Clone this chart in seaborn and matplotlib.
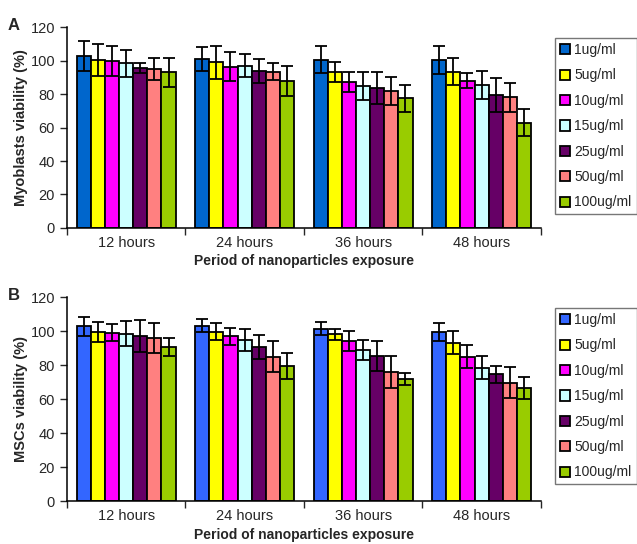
import pandas as pd
import numpy as np
import matplotlib
matplotlib.use("Agg")
import matplotlib.pyplot as plt
import seaborn as sns

periods = ["12 hours", "24 hours", "36 hours", "48 hours"]
doses = ["1ug/ml", "5ug/ml", "10ug/ml", "15ug/ml", "25ug/ml", "50ug/ml", "100ug/ml"]

# viability (%) per dose, one value per period
myo_mean = [
    [103, 101, 100.5, 100.5],
    [100.5, 99, 93, 93.5],
    [99.7, 96.5, 87, 88],
    [98.5, 97, 85, 85.5],
    [95.5, 93.7, 83.5, 79.5],
    [95, 93.5, 82, 78],
    [93, 88, 77.5, 63],
]
myo_err = [
    [9, 7, 8, 8.5],
    [9.5, 10, 6, 8],
    [9, 8.5, 6, 4.5],
    [8, 7, 8.5, 8.5],
    [3, 7, 9.5, 10],
    [6.5, 5, 8.5, 8.5],
    [8.5, 9, 8, 8],
]
msc_mean = [
    [102.8, 103.2, 101.4, 99.6],
    [99.6, 99.6, 98, 93.2],
    [99, 97, 94, 85],
    [98.5, 94.5, 88.8, 78.5],
    [97, 90.8, 85.3, 74.5],
    [96, 85, 76, 69.6],
    [90.6, 79.4, 71.6, 66.7],
]
msc_err = [
    [5.5, 4, 4, 5.4],
    [6, 5, 3, 7],
    [5, 5, 6, 7],
    [7.5, 6.5, 6, 7],
    [9.5, 7, 9, 5],
    [9, 9, 9.5, 9],
    [5.5, 7.5, 3.5, 6.5],
]

colors_a = ["#0066CC", "#FFFF00", "#FF00FF", "#CCFFFF", "#660066", "#FF8080", "#99CC00"]
colors_b = ["#3366FF", "#FFFF00", "#FF00FF", "#CCFFFF", "#660066", "#FF8080", "#99CC00"]

sns.set_style("ticks")
plt.rcParams["font.family"] = ["Liberation Sans", "DejaVu Sans"]

fig = plt.figure(figsize=(6.37, 5.44), dpi=100)


def panel(rect, mean, err, colors, ylabel, letter):
    ax = fig.add_axes(rect)
    rows = []
    for i, d in enumerate(doses):
        for j, p in enumerate(periods):
            rows.append({"period": p, "dose": d, "value": mean[i][j]})
    df = pd.DataFrame(rows)
    sns.barplot(data=df, x="period", y="value", hue="dose", order=periods,
                hue_order=doses, palette=colors, saturation=1, width=0.835,
                errorbar=None, edgecolor="black", linewidth=1.3, ax=ax)
    bars = list(ax.containers)
    for i, cont in enumerate(bars):
        xs = [b.get_x() + b.get_width() / 2 for b in cont]
        ys = [b.get_height() for b in cont]
        ax.errorbar(xs, ys, yerr=err[i], fmt="none", ecolor="black",
                    elinewidth=1.3, capsize=4, capthick=1.3, zorder=5)
    ax.set_xlim(-0.5, 3.5)
    ax.set_ylim(0, 120)
    ax.set_yticks(range(0, 121, 20))
    ax.set_xticks([-0.5, 0.5, 1.5, 2.5, 3.5], minor=False)
    ax.set_xticklabels([])
    ax.set_xticks(range(4), minor=True)
    ax.set_xticklabels(periods, minor=True, fontsize=10.5)
    ax.tick_params(axis="x", which="minor", length=0, pad=6)
    ax.tick_params(axis="x", which="major", length=5, width=1, direction="out")
    ax.tick_params(axis="y", length=5, width=1, labelsize=10.5)
    sns.despine(ax=ax)
    for s in ["left", "bottom"]:
        ax.spines[s].set_linewidth(1.1)
        ax.spines[s].set_color("black")
    ax.set_ylabel(ylabel, fontsize=10.5, fontweight="bold", labelpad=2)
    ax.set_xlabel("Period of nanoparticles exposure", fontsize=10,
                  fontweight="bold", labelpad=3)
    h, l = ax.get_legend_handles_labels()
    ax.legend(h, l, loc="upper left", bbox_to_anchor=(1.03, 0.945),
              fontsize=10, frameon=True, fancybox=False, edgecolor="#555555",
              handlelength=0.75, handleheight=0.75, handletextpad=0.3,
              labelspacing=0.82, borderpad=0.35, borderaxespad=0)
    fig.text(0.012, rect[1] + rect[3] + 0.003, letter, fontsize=12,
             fontweight="bold", va="center")
    return ax


panel([0.105, 0.581, 0.744, 0.369], myo_mean, myo_err, colors_a,
      "Myoblasts viability (%)", "A")
panel([0.105, 0.079, 0.744, 0.375], msc_mean, msc_err, colors_b,
      "MSCs viability (%)", "B")

fig.savefig("out.png", dpi=100)
